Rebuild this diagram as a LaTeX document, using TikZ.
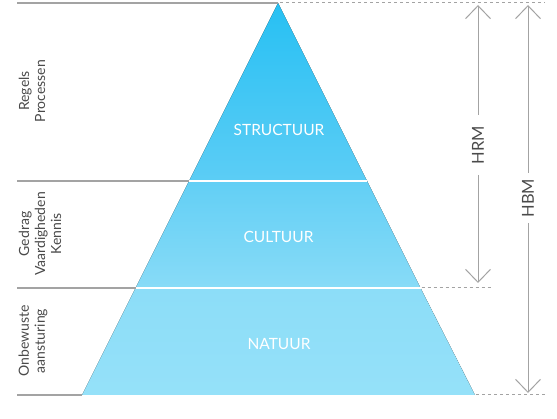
\documentclass[tikz,border=0pt]{standalone}
\usepackage{fontspec}
\setmainfont{Lato}
\usetikzlibrary{arrows.meta}
\definecolor{gline}{HTML}{A3A3A3}
\definecolor{c1t}{HTML}{27C0F3}
\definecolor{c1b}{HTML}{5CCDF5}
\definecolor{c2t}{HTML}{62CFF5}
\definecolor{c2b}{HTML}{88DBF7}
\definecolor{c3t}{HTML}{8CDDF8}
\definecolor{c3b}{HTML}{95E1F9}
\definecolor{tgray}{HTML}{4A4A4A}
\tikzset{
  leftline/.style={draw=gline, line width=1.4pt},
  dashline/.style={draw=gline, line width=1pt, dash pattern=on 3pt off 3pt},
  divider/.style={draw=white, line width=1.6pt},
  dimline/.style={draw=gline, line width=1pt, -{Straight Barb[length=13pt,width=25pt,line width=1pt]}},
  bandlabel/.style={text=white, font=\fontsize{15.5}{17}\selectfont},
  sidelabel/.style={text=tgray, font=\fontsize{14}{16}\selectfont, rotate=90, align=center, inner sep=0pt},
  dimlabel/.style={text=tgray, font=\fontsize{16.5}{18}\selectfont, rotate=90}
}
\begin{document}
\begin{tikzpicture}[x=1pt,y=-1pt]
\useasboundingbox (0,0) rectangle (557,419);
% key points
\coordinate (A) at (278,3);
\coordinate (L1) at (189,181);
\coordinate (R1) at (367,181);
\coordinate (L2) at (135.5,288);
\coordinate (R2) at (420.5,288);
\coordinate (BL) at (82,395);
\coordinate (BR) at (475,395);
\coordinate (t0) at (17,3);
\coordinate (m1) at (17,181);
\coordinate (m2) at (17,288);
\coordinate (b0) at (17,395);
\coordinate (tE) at (545,3);
\coordinate (mE) at (493,288);
\coordinate (bE) at (545,395);
% bands
\fill[top color=c1t, bottom color=c1b] (A) -- (R1) -- (L1) -- cycle;
\fill[top color=c2t, bottom color=c2b] (L1) -- (R1) -- (R2) -- (L2) -- cycle;
\fill[top color=c3t, bottom color=c3b] (L2) -- (R2) -- (BR) -- (BL) -- cycle;
\draw[divider] (L1) -- (R1);
\draw[divider] (L2) -- (R2);
% left lines
\draw[leftline] (t0) -- (A);
\draw[leftline] (m1) -- (L1);
\draw[leftline] (m2) -- (L2);
\draw[leftline] (b0) -- (BL);
% dashed extensions
\draw[dashline] (A) ++(2,0) -- (tE);
\draw[dashline] (R2) ++(1,0) -- (mE);
\draw[dashline] (BR) ++(1,0) -- (bE);
% band labels
\node[bandlabel] (s) at (279,130) {STRUCTUUR};
\node[bandlabel] (c) at (278.5,237) {CULTUUR};
\node[bandlabel] (n) at (279,344) {NATUUR};
% side labels
\node[sidelabel] (sl1) at (32,91) {Regels\\Processen};
\node[sidelabel] (sl2) at (40,234) {Gedrag\\Vaardigheden\\Kennis};
\node[sidelabel] (sl3) at (33,341) {Onbewuste\\aansturing};
% dimension arrows
\node[dimlabel] (hrm) at (478,145) {HRM};
\node[dimlabel] (hbm) at (528,198) {HBM};
\coordinate (hrmT) at (478,5);
\coordinate (hrmB) at (478,283);
\coordinate (hbmT) at (528,5);
\coordinate (hbmB) at (528,393);
\draw[dimline] (478,115) -- (hrmT);
\draw[dimline] (478,175) -- (hrmB);
\draw[dimline] (528,173) -- (hbmT);
\draw[dimline] (528,223) -- (hbmB);
\end{tikzpicture}
\end{document}
